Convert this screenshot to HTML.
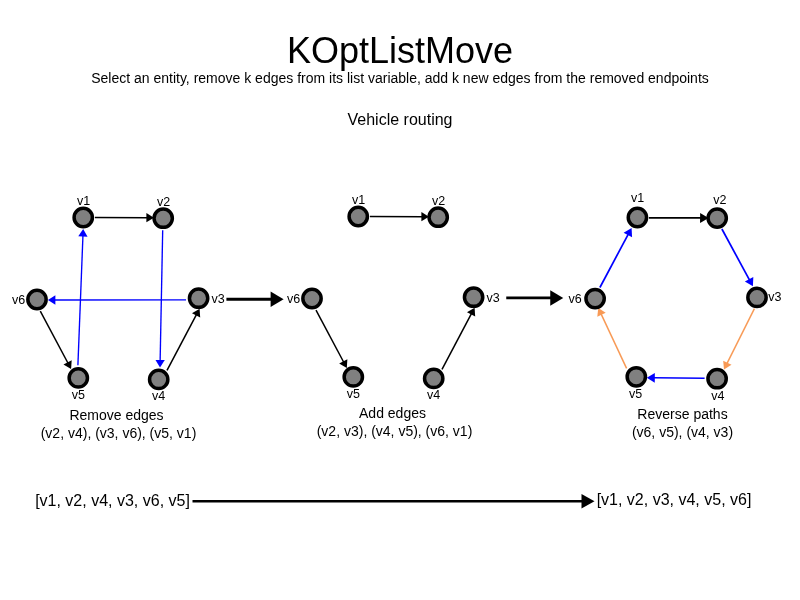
<!DOCTYPE html>
<html><head><meta charset="utf-8"><title>KOptListMove</title>
<style>html,body{margin:0;padding:0;background:#fff;}svg{display:block;will-change:transform;font-family:"Liberation Sans",sans-serif;fill:#000;}</style></head>
<body><svg width="800" height="600" viewBox="0 0 800 600">
<rect width="800" height="600" fill="#fff"/>
<line x1="94.90" y1="217.60" x2="147.40" y2="217.69" stroke="#000" stroke-width="1.5"/>
<polygon points="153.90,217.70 146.39,222.34 146.41,213.04" fill="#000"/>
<line x1="40.30" y1="311.20" x2="68.04" y2="363.26" stroke="#000" stroke-width="1.5"/>
<polygon points="71.10,369.00 63.47,364.57 71.68,360.19" fill="#000"/>
<line x1="167.00" y1="370.30" x2="196.56" y2="314.45" stroke="#000" stroke-width="1.5"/>
<polygon points="199.60,308.70 200.20,317.50 191.98,313.15" fill="#000"/>
<line x1="162.70" y1="230.30" x2="160.13" y2="361.00" stroke="#0000ff" stroke-width="1.35"/>
<polygon points="160.00,367.50 155.50,359.91 164.80,360.09" fill="#0000ff"/>
<line x1="186.00" y1="299.90" x2="54.40" y2="300.00" stroke="#0000ff" stroke-width="1.35"/>
<polygon points="47.90,300.00 55.40,295.34 55.40,304.64" fill="#0000ff"/>
<line x1="77.90" y1="365.30" x2="82.95" y2="235.50" stroke="#0000ff" stroke-width="1.35"/>
<polygon points="83.20,229.00 87.56,236.68 78.26,236.31" fill="#0000ff"/>
<circle cx="83.25" cy="217.5" r="9.15" fill="#808080" stroke="#000" stroke-width="3.5"/>
<circle cx="163.2" cy="218.2" r="9.15" fill="#808080" stroke="#000" stroke-width="3.5"/>
<circle cx="198.6" cy="298.2" r="9.15" fill="#808080" stroke="#000" stroke-width="3.5"/>
<circle cx="158.7" cy="379.4" r="9.15" fill="#808080" stroke="#000" stroke-width="3.5"/>
<circle cx="78.3" cy="377.9" r="9.15" fill="#808080" stroke="#000" stroke-width="3.5"/>
<circle cx="37.0" cy="299.5" r="9.15" fill="#808080" stroke="#000" stroke-width="3.5"/>
<line x1="369.90" y1="216.60" x2="422.40" y2="216.69" stroke="#000" stroke-width="1.5"/>
<polygon points="428.90,216.70 421.39,221.34 421.41,212.04" fill="#000"/>
<line x1="316.00" y1="310.20" x2="343.74" y2="362.26" stroke="#000" stroke-width="1.5"/>
<polygon points="346.80,368.00 339.17,363.57 347.38,359.19" fill="#000"/>
<line x1="442.00" y1="369.30" x2="471.56" y2="313.45" stroke="#000" stroke-width="1.5"/>
<polygon points="474.60,307.70 475.20,316.50 466.98,312.15" fill="#000"/>
<circle cx="358.25" cy="216.5" r="9.15" fill="#808080" stroke="#000" stroke-width="3.5"/>
<circle cx="438.2" cy="217.2" r="9.15" fill="#808080" stroke="#000" stroke-width="3.5"/>
<circle cx="473.6" cy="297.2" r="9.15" fill="#808080" stroke="#000" stroke-width="3.5"/>
<circle cx="433.7" cy="378.4" r="9.15" fill="#808080" stroke="#000" stroke-width="3.5"/>
<circle cx="353.3" cy="376.9" r="9.15" fill="#808080" stroke="#000" stroke-width="3.5"/>
<circle cx="312.0" cy="298.5" r="9.15" fill="#808080" stroke="#000" stroke-width="3.5"/>
<line x1="648.90" y1="217.80" x2="701.10" y2="217.89" stroke="#000" stroke-width="1.7"/>
<polygon points="708.60,217.90 700.09,222.89 700.11,212.89" fill="#000"/>
<line x1="721.90" y1="229.00" x2="749.57" y2="280.14" stroke="#0000ff" stroke-width="1.7"/>
<polygon points="752.90,286.30 744.87,281.55 753.32,276.98" fill="#0000ff"/>
<line x1="754.40" y1="308.60" x2="726.90" y2="363.68" stroke="#f89a56" stroke-width="1.5"/>
<polygon points="724.00,369.50 723.19,360.71 731.51,364.87" fill="#f89a56"/>
<line x1="704.60" y1="378.20" x2="653.80" y2="377.85" stroke="#0000ff" stroke-width="1.5"/>
<polygon points="646.80,377.80 654.83,373.06 654.77,382.66" fill="#0000ff"/>
<line x1="626.60" y1="368.40" x2="601.06" y2="313.89" stroke="#f89a56" stroke-width="1.5"/>
<polygon points="598.30,308.00 605.69,312.82 597.27,316.76" fill="#f89a56"/>
<line x1="599.90" y1="287.50" x2="628.31" y2="234.08" stroke="#0000ff" stroke-width="1.7"/>
<polygon points="631.60,227.90 632.08,237.22 623.61,232.71" fill="#0000ff"/>
<circle cx="637.4" cy="217.5" r="9.15" fill="#808080" stroke="#000" stroke-width="3.5"/>
<circle cx="717.2" cy="218.1" r="9.15" fill="#808080" stroke="#000" stroke-width="3.5"/>
<circle cx="757.0" cy="297.4" r="9.15" fill="#808080" stroke="#000" stroke-width="3.5"/>
<circle cx="717.1" cy="378.7" r="9.15" fill="#808080" stroke="#000" stroke-width="3.5"/>
<circle cx="636.3" cy="376.8" r="9.15" fill="#808080" stroke="#000" stroke-width="3.5"/>
<circle cx="595.1" cy="298.6" r="9.15" fill="#808080" stroke="#000" stroke-width="3.5"/>
<text x="83.55" y="205.2" font-size="12.5" text-anchor="middle">v1</text>
<text x="163.5" y="205.89999999999998" font-size="12.5" text-anchor="middle">v2</text>
<text x="358.55" y="204.2" font-size="12.5" text-anchor="middle">v1</text>
<text x="438.5" y="204.89999999999998" font-size="12.5" text-anchor="middle">v2</text>
<text x="637.6999999999999" y="202.2" font-size="12.5" text-anchor="middle">v1</text>
<text x="719.8000000000001" y="203.79999999999998" font-size="12.5" text-anchor="middle">v2</text>
<text x="158.7" y="400.0" font-size="12.5" text-anchor="middle">v4</text>
<text x="78.3" y="399.2" font-size="12.5" text-anchor="middle">v5</text>
<text x="433.7" y="399.0" font-size="12.5" text-anchor="middle">v4</text>
<text x="353.3" y="398.2" font-size="12.5" text-anchor="middle">v5</text>
<text x="635.5" y="398.3" font-size="12.5" text-anchor="middle">v5</text>
<text x="717.9" y="400.2" font-size="12.5" text-anchor="middle">v4</text>
<text x="25.2" y="304.0" font-size="12.5" text-anchor="end">v6</text>
<text x="300.2" y="303.0" font-size="12.5" text-anchor="end">v6</text>
<text x="581.8000000000001" y="302.6" font-size="12.5" text-anchor="end">v6</text>
<text x="211.6" y="302.5" font-size="12.5" text-anchor="start">v3</text>
<text x="486.6" y="301.5" font-size="12.5" text-anchor="start">v3</text>
<text x="768.2" y="300.7" font-size="12.5" text-anchor="start">v3</text>
<line x1="226.4" y1="299.3" x2="271.6" y2="299.3" stroke="#000" stroke-width="2.9"/>
<polygon points="283.6,299.3 270.6,291.55 270.6,307.05" fill="#000"/>
<line x1="506.25" y1="297.9" x2="551.25" y2="297.9" stroke="#000" stroke-width="2.9"/>
<polygon points="563.25,297.9 550.25,290.15 550.25,305.65" fill="#000"/>
<line x1="192.5" y1="501.2" x2="582.5" y2="501.2" stroke="#000" stroke-width="2.6"/>
<polygon points="594.5,501.2 581.5,493.95 581.5,508.45" fill="#000"/>
<text x="400" y="62.5" font-size="36" text-anchor="middle">KOptListMove</text>
<text x="400" y="82.5" font-size="14" text-anchor="middle">Select an entity, remove k edges from its list variable, add k new edges from the removed endpoints</text>
<text x="400" y="124.5" font-size="16" text-anchor="middle">Vehicle routing</text>
<text x="116.5" y="420" font-size="14" text-anchor="middle">Remove edges</text>
<text x="118.5" y="438" font-size="14" text-anchor="middle">(v2, v4), (v3, v6), (v5, v1)</text>
<text x="392.5" y="418.1" font-size="14" text-anchor="middle">Add edges</text>
<text x="394.5" y="436.1" font-size="14" text-anchor="middle">(v2, v3), (v4, v5), (v6, v1)</text>
<text x="682.5" y="418.5" font-size="14" text-anchor="middle">Reverse paths</text>
<text x="682.5" y="436.5" font-size="14" text-anchor="middle">(v6, v5), (v4, v3)</text>
<text x="112.5" y="505.5" font-size="16" text-anchor="middle">[v1, v2, v4, v3, v6, v5]</text>
<text x="674" y="505" font-size="16" text-anchor="middle">[v1, v2, v3, v4, v5, v6]</text>
</svg></body></html>
